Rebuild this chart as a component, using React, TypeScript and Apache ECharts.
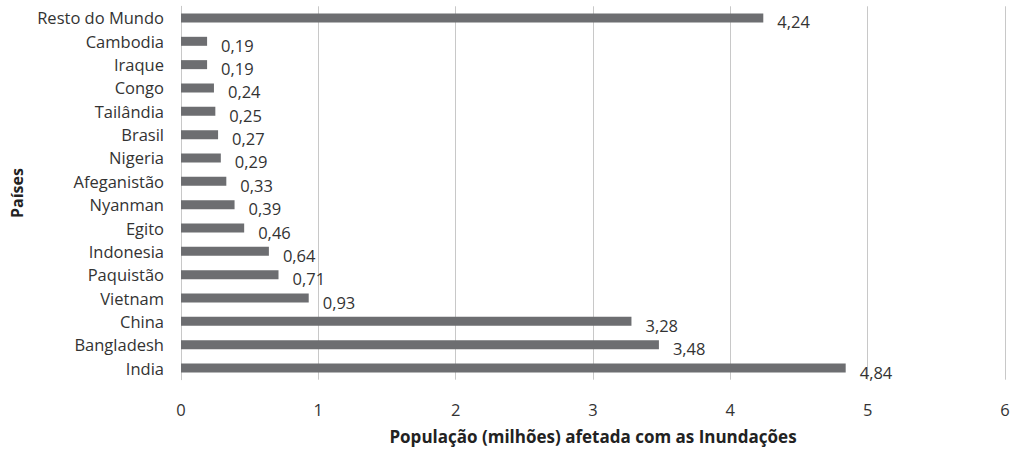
import React, { useEffect, useRef } from "react";
import * as echarts from "echarts";

const categories = ["India", "Bangladesh", "China", "Vietnam", "Paquistão", "Indonesia", "Egito", "Nyanman", "Afeganistão", "Nigeria", "Brasil", "Tailândia", "Congo", "Iraque", "Cambodia", "Resto do Mundo"];
const values = [4.84, 3.48, 3.28, 0.93, 0.71, 0.64, 0.46, 0.39, 0.33, 0.29, 0.27, 0.25, 0.24, 0.19, 0.19, 4.24];
const xTicks = [0, 1, 2, 3, 4, 5, 6];

const FONT = "'Open Sans', sans-serif";

export default function App() {
  const ref = useRef<HTMLDivElement>(null);
  useEffect(() => {
    document.body.style.margin = "0";
    const chart = echarts.init(ref.current!, null, { renderer: "svg" });
    chart.setOption({
      animation: false,
      textStyle: { fontFamily: FONT },
      grid: { left: 181, right: 14, top: 6.3, bottom: 71.3, containLabel: false, outerBoundsMode: "none" },
      xAxis: {
        type: "value",
        min: xTicks[0],
        max: xTicks[xTicks.length - 1],
        interval: 1,
        axisLine: { show: false },
        axisTick: { show: false },
        splitLine: { show: true, lineStyle: { color: "#c8c8c8", width: 1 } },
        axisLabel: { color: "#333", fontSize: 16.5, margin: 21, fontFamily: FONT },
        name: "População (milhões) afetada com as Inundações",
        nameLocation: "middle",
        nameGap: 48,
        nameMoveOverlap: false,
        nameTextStyle: { fontWeight: "bold", fontSize: 17, color: "#222", fontFamily: FONT },
      },
      yAxis: {
        type: "category",
        data: categories,
        axisLine: { show: true, lineStyle: { color: "#c8c8c8" } },
        axisTick: { show: false },
        axisLabel: { color: "#333", fontSize: 16.5, margin: 17, fontFamily: FONT },
        name: "Países",
        nameLocation: "middle",
        nameGap: 156,
        nameRotate: 90,
        nameMoveOverlap: false,
        nameTextStyle: { fontWeight: "bold", fontSize: 16, color: "#222", fontFamily: FONT },
      },
      series: [
        {
          type: "bar",
          data: values,
          barWidth: 9,
          itemStyle: { color: "#6d6e71" },
          label: {
            show: true,
            position: "right",
            distance: 14,
            offset: [0, 4],
            color: "#333",
            fontSize: 16.5,
            fontFamily: FONT,
            formatter: (p: any) => p.value.toFixed(2).replace(".", ","),
          },
        },
      ],
    });
    return () => chart.dispose();
  }, []);
  return <div ref={ref} style={{ width: 1019, height: 451 }} />;
}
